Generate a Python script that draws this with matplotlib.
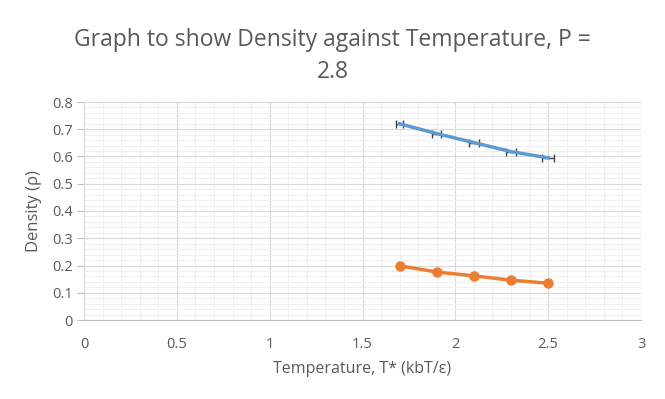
import matplotlib.pyplot as plt
from matplotlib.ticker import MultipleLocator

plt.rcParams['font.family'] = ['Open Sans', 'DejaVu Sans']

temperature = [1.7, 1.9, 2.1, 2.3, 2.5]
density_liquid = [0.720, 0.684, 0.651, 0.618, 0.595]
temp_err = [0.020, 0.024, 0.025, 0.027, 0.034]
density_gas = [0.199, 0.176, 0.162, 0.146, 0.135]

grey = '#595959'

fig = plt.figure(figsize=(6.65, 3.99), dpi=100)
ax = fig.add_axes([84 / 665, 1 - 320 / 399, (641 - 84) / 665, (320 - 102) / 399])

ax.errorbar(temperature, density_liquid, xerr=temp_err, color='#5B9BD5', lw=2.5,
            ecolor='#404040', elinewidth=1, capsize=3, capthick=1, zorder=3)
ax.plot(temperature, density_gas, color='#ED7D31', lw=2.5, marker='o', ms=6.5, zorder=3)

ax.set_xlim(0, 3)
ax.set_ylim(0, 0.8)
ax.xaxis.set_major_locator(MultipleLocator(0.5))
ax.xaxis.set_minor_locator(MultipleLocator(0.1))
ax.yaxis.set_major_locator(MultipleLocator(0.1))
ax.yaxis.set_minor_locator(MultipleLocator(0.02))
ax.xaxis.set_major_formatter(lambda v, p: f'{v:g}')
ax.yaxis.set_major_formatter(lambda v, p: f'{v:g}')

ax.grid(which='major', color='#d9d9d9', lw=0.8)
ax.grid(which='minor', color='#f0f0f0', lw=0.8)
ax.set_axisbelow(True)

for s in ['top', 'right']:
    ax.spines[s].set_visible(False)
ax.spines['left'].set_color('#d9d9d9')
ax.spines['bottom'].set_color('#bfbfbf')
ax.tick_params(axis='x', which='both', length=0, colors=grey, labelsize=10.5, pad=12)
ax.tick_params(axis='y', which='major', length=5, color='#bfbfbf', labelcolor=grey, labelsize=10.5, pad=3)
ax.tick_params(axis='y', which='minor', length=0)

ax.set_xlabel('Temperature, T* (kbT/ε)', color=grey, fontsize=11.5, labelpad=7)
ax.set_ylabel('Density (ρ)', color=grey, fontsize=12, labelpad=7)
fig.text(0.5, 1 - 56 / 399, 'Graph to show Density against Temperature, P =\n2.8',
         ha='center', va='center', color=grey, fontsize=16.5, linespacing=1.4)

fig.savefig('out.png', dpi=100, facecolor='white')
